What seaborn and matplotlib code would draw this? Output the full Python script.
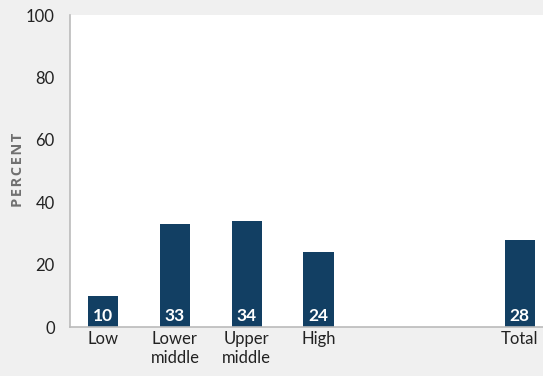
import matplotlib
matplotlib.use('Agg')
import matplotlib.pyplot as plt
import seaborn as sns
import pandas as pd

categorias = ['Low', 'Lower\nmiddle', 'Upper\nmiddle', 'High', 'Total']
valores = [10, 33, 34, 24, 28]
posiciones = [0, 1, 2, 3, 5.8]  # hueco antes de Total

df = pd.DataFrame({'pos': posiciones, 'valor': valores})

sns.set_style('white')
plt.rcParams['font.family'] = ['Lato', 'DejaVu Sans']

fig = plt.figure(figsize=(5.43, 3.76), dpi=100, facecolor='#f0f0f0')
ax = fig.add_axes([70 / 543, 1 - 327 / 376, 1 - 70 / 543 + 0.01, (327 - 15) / 376])
ax.set_facecolor('white')

sns.barplot(data=df, x='pos', y='valor', native_scale=True, width=0.42,
            color='#123f63', saturation=1, linewidth=0, ax=ax)

for x, v in zip(posiciones, valores):
    ax.annotate(str(v), (x, 0), xytext=(0, 2.5), textcoords='offset points',
                ha='center', va='bottom', color='white', fontsize=12.5,
                fontweight='bold')

ax.set_xlim(-0.46, 6.2)
ax.set_ylim(0, 100)
ax.set_yticks(range(0, 101, 20))
ax.set_xticks(posiciones)
ax.set_xticklabels(categorias, linespacing=1.25)
ax.tick_params(axis='both', length=0, labelsize=12, colors='#222222')
ax.tick_params(axis='y', pad=11)
ax.tick_params(axis='x', pad=3)
ax.set_xlabel('')
ax.set_ylabel('\u200a'.join('PERCENT'), fontsize=10.5, fontweight='bold',
              color='#707070', family=['Open Sans', 'DejaVu Sans'])
ax.yaxis.set_label_coords(-0.095, 0.505)

for s in ['top', 'right']:
    ax.spines[s].set_visible(False)
for s in ['left', 'bottom']:
    ax.spines[s].set_color('#bbbbbb')
    ax.spines[s].set_linewidth(1.2)

fig.savefig('out.png', dpi=100, facecolor=fig.get_facecolor())
